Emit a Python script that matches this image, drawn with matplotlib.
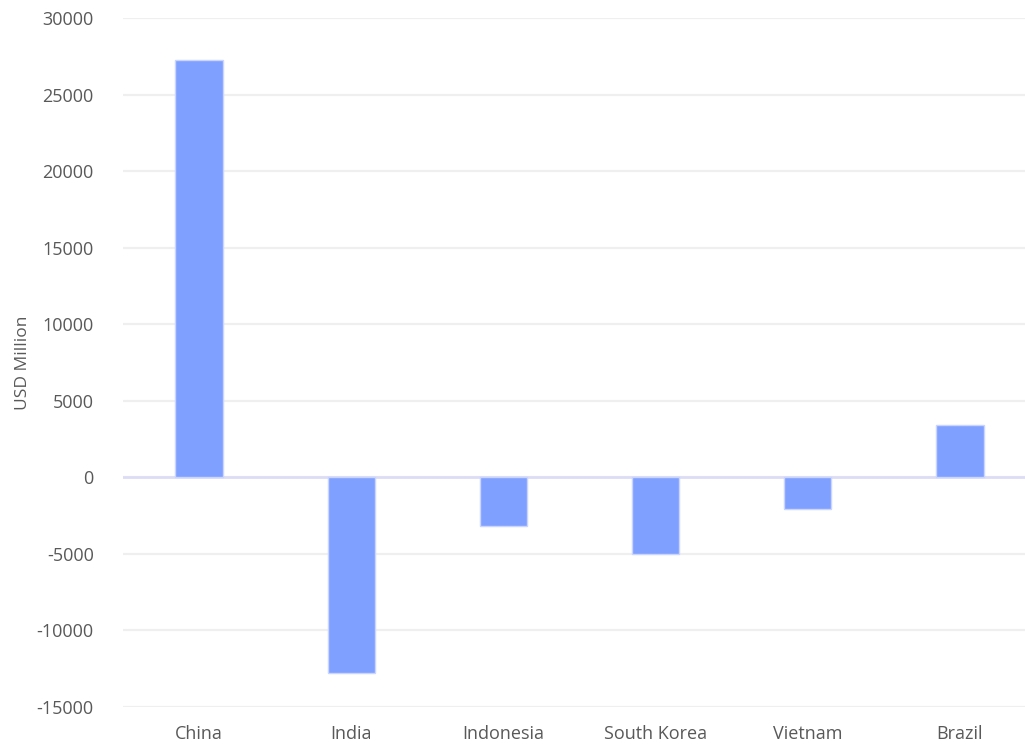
import numpy as np
import matplotlib.pyplot as plt

countries = ["China", "India", "Indonesia", "South Korea", "Vietnam", "Brazil"]
values = [27250, -12750, -3150, -5000, -2100, 3450]
yticks = [-15000, -10000, -5000, 0, 5000, 10000, 15000, 20000, 25000, 30000]

plt.rcParams["font.family"] = ["Open Sans", "DejaVu Sans"]
text_color = "#595959"

fig = plt.figure(figsize=(10.25, 7.45), dpi=100)
ax = fig.add_axes([123 / 1025, 38 / 745, 913 / 1025, 689 / 745])

x = np.arange(len(countries))
ax.bar(x, values, width=0.31, color="#7fa0ff", edgecolor="#c9d5ff",
       linewidth=1, zorder=3)

ax.set_xlim(-0.5, len(countries) - 0.5)
ax.set_ylim(yticks[0], yticks[-1])
ax.set_yticks(yticks)
ax.set_yticklabels([str(t) for t in yticks])
ax.set_xticks(x)
ax.set_xticklabels(countries)

ax.grid(axis="y", color="#efefef", linewidth=1.6, zorder=0)
ax.axhline(0, color="#dcdcf6", linewidth=2, zorder=2)

for s in ax.spines.values():
    s.set_visible(False)
ax.tick_params(axis="both", length=0, labelsize=13, colors=text_color)
ax.tick_params(axis="y", pad=21)
ax.tick_params(axis="x", pad=13)

ax.set_ylabel("USD Million", fontsize=12.5, color=text_color)
ax.yaxis.set_label_coords(-92 / 913, 0.5)

fig.savefig("out.png", dpi=100)
